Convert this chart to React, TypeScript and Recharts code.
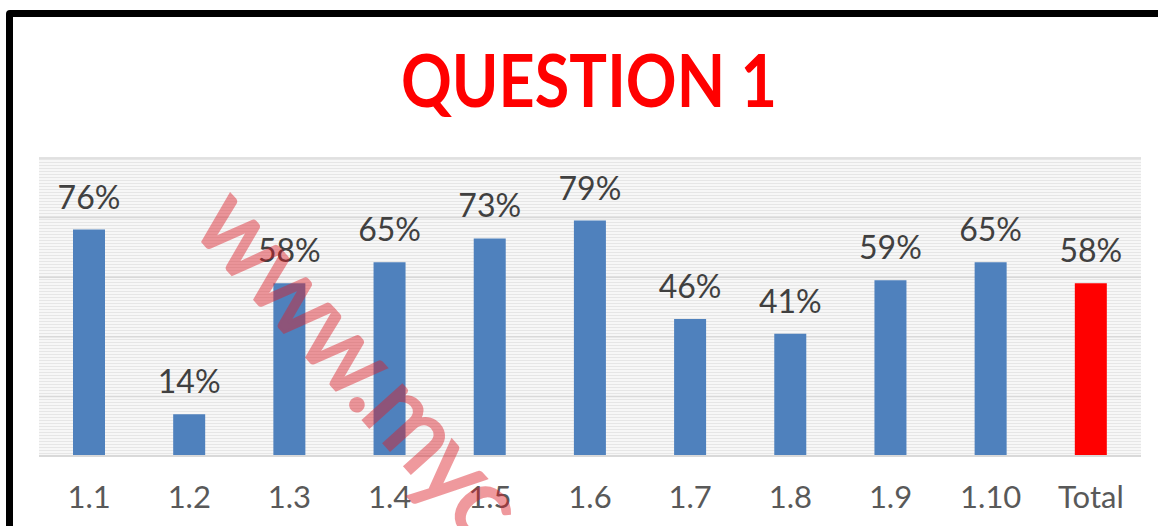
import React from 'react';
import { BarChart, Bar, XAxis, YAxis, CartesianGrid, LabelList, Cell } from 'recharts';

// Question 1 results, percent per sub-question
const categories = ['1.1', '1.2', '1.3', '1.4', '1.5', '1.6', '1.7', '1.8', '1.9', '1.10', 'Total'];
const scores = [76, 14, 58, 65, 73, 79, 46, 41, 59, 65, 58];
const yTicks = [0, 20, 40, 60, 80, 100];

const data = categories.map((name, i) => ({ name, value: scores[i] }));

const FONT = 'Lato, "Open Sans", sans-serif';

const App: React.FC = () => {
  return (
    <div style={{ position: 'fixed', left: 0, top: 0, width: 1158, height: 526, overflow: 'hidden', background: '#fff' }}>
      {/* black frame running off the right and bottom edges */}
      <div
        style={{
          position: 'absolute',
          left: 6,
          top: 10,
          width: 1200,
          height: 600,
          border: '7px solid #000',
          borderRadius: 4,
        }}
      />
      <svg width={1158} height={130} style={{ position: 'absolute', left: 0, top: 0 }}>
        <text
          x={589}
          y={107}
          textAnchor="middle"
          fill="#ff0000"
          fontFamily={FONT}
          fontWeight={700}
          fontSize={72}
          textLength={376}
          lengthAdjust="spacingAndGlyphs"
        >
          QUESTION 1
        </text>
      </svg>
      <div style={{ position: 'absolute', left: 0, top: 0 }}>
        <BarChart
          width={1158}
          height={526}
          data={data}
          margin={{ top: 158, right: 17, left: 39, bottom: 10 }}
        >
          <defs>
            <pattern id="hstripes" width="4" height="3" patternUnits="userSpaceOnUse">
              <rect width="4" height="3" fill="#f7f7f7" />
              <rect width="4" height="1" fill="#e6e6e6" />
            </pattern>
          </defs>
          <CartesianGrid vertical={false} stroke="#d9d9d9" strokeWidth={1.5} fill="url(#hstripes)" />
          <XAxis
            dataKey="name"
            height={60}
            axisLine={{ stroke: '#d9d9d9', strokeWidth: 2 }}
            tickLine={false}
            tickSize={0}
            tickMargin={30}
            interval={0}
            tick={{ fill: '#595959', fontSize: 31, fontFamily: FONT }}
          />
          <YAxis hide domain={[0, 100]} ticks={yTicks} />
          <Bar dataKey="value" barSize={32} isAnimationActive={false}>
            {data.map((d) => (
              <Cell key={d.name} fill={d.name === 'Total' ? '#ff0000' : '#4f81bd'} />
            ))}
            <LabelList
              dataKey="value"
              position="top"
              offset={21}
              formatter={(v: any) => `${v}%`}
              style={{ fill: '#404040', fontSize: 32, fontFamily: FONT }}
            />
          </Bar>
        </BarChart>
      </div>
      {/* watermark overlay */}
      <svg width={1158} height={526} style={{ position: 'absolute', left: 0, top: 0, pointerEvents: 'none' }}>
        <g opacity={0.45}>
          <text
            x={190}
            y={228}
            transform="rotate(48 190 228)"
            fill="rgb(220,30,40)"
            stroke="rgb(220,30,40)"
            strokeWidth={2.5}
            fontFamily={FONT}
            fontSize={104}
            letterSpacing={-4}
          >
            www.myc
          </text>
        </g>
      </svg>
    </div>
  );
};

export default App;
